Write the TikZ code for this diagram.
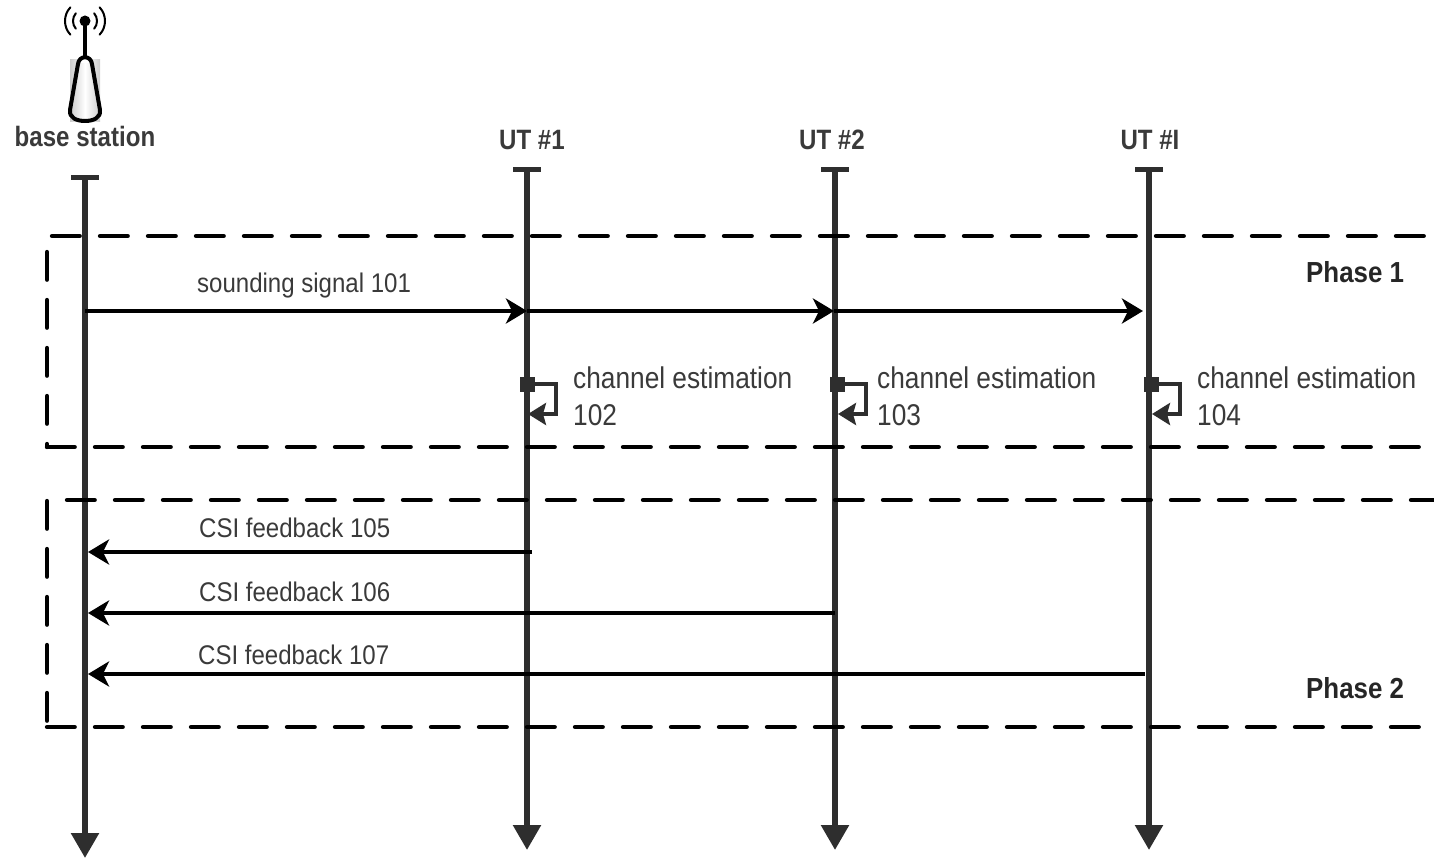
\documentclass[tikz,border=0pt]{standalone}
\usepackage{fontspec}
\setmainfont{Liberation Sans}
\usetikzlibrary{arrows.meta}
\definecolor{lifeline}{HTML}{2E2E2E}
\definecolor{txt}{HTML}{3A3A3A}
\tikzset{
  x=1pt,y=-1pt,
  life/.style={line width=5.6pt,draw=lifeline,-{Triangle[length=25pt,width=27pt]}},
  topbar/.style={line width=5pt,draw=lifeline},
  msg/.style={line width=4.2pt,draw=black,-{Stealth[length=21pt,width=25pt,inset=6pt]}},
  selfloop/.style={line width=3.6pt,draw=lifeline,-{Stealth[length=18pt,width=22pt,inset=3pt]}},
  dashbox/.style={line width=4.3pt,draw=black,line cap=round,dash pattern=on 27.7pt off 20.3pt},
  lab/.style={font=\fontsize{27}{32}\selectfont,text=txt,inner sep=0pt,anchor=base west,xscale=0.89},
  labbig/.style={font=\fontsize{30}{36}\selectfont,text=txt,inner sep=0pt,anchor=base west,xscale=0.876},
  head/.style={font=\fontsize{28}{32}\selectfont\bfseries,text=txt,inner sep=0pt,anchor=base,xscale=0.86},
  phase/.style={font=\fontsize{29}{32}\selectfont\bfseries,text=black!85,inner sep=0pt,anchor=base west,xscale=0.893},
}
\begin{document}
\begin{tikzpicture}
\useasboundingbox (0,0) rectangle (1434,858);
% antenna
\shade[left color=gray!40,right color=gray!40,middle color=white] (70,60) rectangle (100,122);
\fill[white] (77,58) rectangle (93,63);
\draw[line width=4pt,line join=round] (78,64) .. controls (79,55) and (91,55) .. (92,64) -- (100,110) .. controls (101,118) and (93,121) .. (85,121) .. controls (77,121) and (69,118) .. (70,110) -- cycle;
\draw[line width=4pt] (85,22) -- (85,57);
\fill (85,21) circle (5.5pt);
\foreach \r/\a in {12/40,20/43}{
  \draw[line width=2pt,line cap=round] ([shift={(-\a:\r)}]85,21) arc[start angle=-\a,end angle=\a,radius=\r];
  \draw[line width=2pt,line cap=round] ([shift={(180-\a:\r)}]85,21) arc[start angle=180-\a,end angle=180+\a,radius=\r];
}
\node[head] (bs) at (85,147) {base station};
\node[head] (ut1) at (532,150) {UT \#1};
\node[head] (ut2) at (832,150) {UT \#2};
\node[head] (uti) at (1150,150) {UT \#I};
% lifelines
\coordinate (a0) at (85,178); \coordinate (a1) at (85,858);
\coordinate (b0) at (527,170); \coordinate (b1) at (527,850);
\coordinate (c0) at (835,170); \coordinate (c1) at (835,850);
\coordinate (d0) at (1149,170); \coordinate (d1) at (1149,850);
\foreach \p in {a,b,c,d}{
  \draw[life] (\p0) -- (\p1);
  \draw[topbar] ([xshift=-14pt]\p0) -- ([xshift=14pt]\p0);
}
% phase boxes
\draw[dashbox] (52,236) -- (1425,236);
\draw[dashbox] (47,252) -- (47,447);
\draw[dashbox] (47,447) -- (1419,447);
\draw[dashbox] (67,500) -- (1434,500);
\draw[dashbox] (47,501) -- (47,725);
\draw[dashbox] (47,727) -- (1419,727);
% messages
\coordinate (m1) at (85,311); \coordinate (m2) at (527,311); \coordinate (m3) at (834,311); \coordinate (m4) at (1143,311);
\draw[msg] (m1) -- (m2);
\draw[msg] (m2) -- (m3);
\draw[msg] (m3) -- (m4);
\node[lab] (s) at (197,293) {sounding signal 101};
\foreach \x/\n/\t in {527/102/573,837/103/877,1151/104/1197}{
  \fill[lifeline] (\x-7.5,376.5) rectangle (\x+7.5,391.5);
  \draw[selfloop] (\x+7,384) -| (\x+29,414) -- (\x+1,414);
  \node[labbig] at (\t,388) {channel estimation};
  \node[labbig] at (\t,425) {\n};
}
\foreach \x/\y/\b/\n/\t in {532/552/537/105/199,835/613/601/106/199,1145/674/664/107/198}{
  \coordinate (f) at (\x,\y); \coordinate (g) at (88,\y);
  \draw[msg] (f) -- (g);
  \node[lab] at (\t,\b) {CSI feedback \n};
}
\node[phase] (p1) at (1306,283) {Phase 1};
\node[phase] (p2) at (1306,698) {Phase 2};
\end{tikzpicture}
\end{document}
